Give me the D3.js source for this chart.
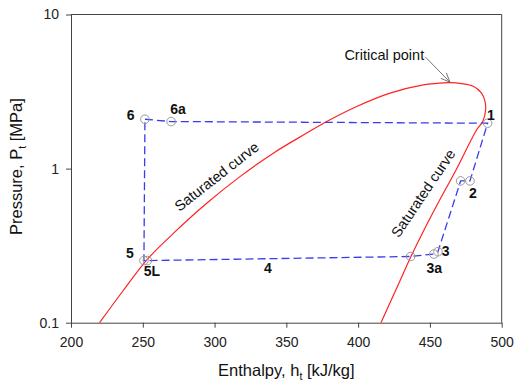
<!DOCTYPE html>
<html>
<head>
<meta charset="utf-8">
<script src="https://cdn.jsdelivr.net/npm/d3@7"></script>
<style>
  body { margin: 0; background: #fff; }
  svg { font-family: "Liberation Sans", Arial, sans-serif; }
  .axis path, .axis line { stroke: #444; }
  .axis text { font-size: 14px; fill: #222; }
</style>
</head>
<body>
<div id="chart"></div>
<script>
// Saturation dome (enthalpy kJ/kg, pressure MPa), liquid side -> critical point -> vapour side
const domeH = [219.9, 236, 252.7, 271.3, 294.5, 317.7, 340.9, 364.2, 378.1, 399, 422.2, 445.4, 457, 464, 472, 480.2, 485.8, 488.3, 488.8, 486.8, 482.5, 468.2, 455.6, 445.9, 436.8, 426.4, 415.9];
const domeP = [0.1, 0.16, 0.255, 0.38, 0.596, 0.887, 1.26, 1.70, 2.02, 2.53, 3.09, 3.49, 3.59, 3.61, 3.56, 3.42, 3.1, 2.75, 2.4, 2.02, 1.78, 0.98, 0.596, 0.40, 0.269, 0.164, 0.1];

// Cycle points in drawing order
const cycleNames = ["6", "6a", "1", "2", "2b", "3", "3a", "3s", "5L", "5", "6"];
const cycleH = [251.5, 269.7, 490.2, 477.9, 471.4, 455.6, 452.8, 436.6, 253.2, 250.8, 251.5];
const cycleP = [2.09, 2.02, 1.97, 0.832, 0.832, 0.289, 0.279, 0.269, 0.253, 0.253, 2.09];

// State labels (anchor positions in data units)
const labelText = ["6", "6a", "1", "2", "3", "3a", "4", "5", "5L"];
const labelH = [241.5, 274.5, 492.5, 480, 461, 453, 337.2, 241.1, 256.4];
const labelP = [2.17, 2.4, 2.2, 0.686, 0.288, 0.222, 0.222, 0.279, 0.212];

const xTicks = [200, 250, 300, 350, 400, 450, 500];
const yTicks = [0.1, 1, 10];

const W = 514, H = 383;
const margin = {top: 14.5, right: 12.3, bottom: 60.3, left: 71};
const width = W - margin.left - margin.right;
const height = H - margin.top - margin.bottom;

const svg = d3.select("#chart").append("svg")
  .attr("width", W)
  .attr("height", H);

const g = svg.append("g")
  .attr("transform", "translate(" + margin.left + "," + margin.top + ")");

const x = d3.scaleLinear().domain([200, 500]).range([0, width]);
const y = d3.scaleLog().domain([0.1, 10]).range([height, 0]);

// frame top and right
g.append("line").attr("x1", 0).attr("x2", width).attr("y1", 0).attr("y2", 0)
  .attr("stroke", "#444");
g.append("line").attr("x1", width).attr("x2", width).attr("y1", 0).attr("y2", height)
  .attr("stroke", "#444");

// axes
g.append("g")
  .attr("class", "axis")
  .attr("transform", "translate(0," + height + ")")
  .call(d3.axisBottom(x).tickValues(xTicks).tickSize(5).tickSizeOuter(0).tickPadding(9).tickFormat(d3.format("d")));

g.append("g")
  .attr("class", "axis")
  .call(d3.axisLeft(y).tickValues(yTicks).tickSize(5).tickSizeOuter(0).tickPadding(7).tickFormat(d => String(d)));

// saturation dome
const dome = domeH.map((h, i) => ({h: h, p: domeP[i]}));
const domeLine = d3.line()
  .x(d => x(d.h))
  .y(d => y(d.p))
  .curve(d3.curveCatmullRom.alpha(0.5));

g.append("path")
  .datum(dome)
  .attr("fill", "none")
  .attr("stroke", "#f22")
  .attr("stroke-width", 1.2)
  .attr("d", domeLine);

// cycle
const cycle = cycleH.map((h, i) => ({name: cycleNames[i], h: h, p: cycleP[i]}));
g.append("path")
  .datum(cycle)
  .attr("fill", "none")
  .attr("stroke", "#3a3af0")
  .attr("stroke-width", 1.3)
  .attr("stroke-dasharray", "8,4")
  .attr("d", d3.line().x(d => x(d.h)).y(d => y(d.p)));

g.selectAll(".pt")
  .data(cycle.slice(0, cycle.length - 1))
  .enter()
  .append("circle")
  .attr("class", "pt")
  .attr("cx", d => x(d.h))
  .attr("cy", d => y(d.p))
  .attr("r", 4.3)
  .attr("fill", "none")
  .attr("stroke", "#9a9a9a")
  .attr("stroke-width", 1);

// state labels
g.selectAll(".lbl")
  .data(labelText.map((t, i) => ({t: t, h: labelH[i], p: labelP[i]})))
  .enter()
  .append("text")
  .attr("class", "lbl")
  .attr("x", d => x(d.h))
  .attr("y", d => y(d.p))
  .attr("text-anchor", "middle")
  .attr("dominant-baseline", "middle")
  .attr("font-size", "14px")
  .attr("font-weight", "bold")
  .attr("fill", "#111")
  .text(d => d.t);

// saturated curve labels
g.append("text")
  .attr("transform", "translate(" + x(303.6) + "," + y(0.838) + ") rotate(-38)")
  .attr("text-anchor", "middle")
  .attr("font-size", "14.5px")
  .attr("fill", "#111")
  .text("Saturated curve");

g.append("text")
  .attr("transform", "translate(" + x(448.2) + "," + y(0.663) + ") rotate(-56)")
  .attr("text-anchor", "middle")
  .attr("font-size", "14.5px")
  .attr("fill", "#111")
  .text("Saturated curve");

// critical point annotation
const cpH = 464, cpP = 3.61;
const tx = x(446), ty = y(5.08);
g.append("text")
  .attr("x", tx)
  .attr("y", ty)
  .attr("text-anchor", "end")
  .attr("font-size", "14.5px")
  .attr("fill", "#111")
  .text("Critical point");

const ax0 = tx + 1, ay0 = ty - 3;
const ax1 = x(cpH), ay1 = y(cpP) - 0.5;
g.append("line")
  .attr("x1", ax0).attr("y1", ay0).attr("x2", ax1).attr("y2", ay1)
  .attr("stroke", "#666").attr("stroke-width", 0.9);
const ang = Math.atan2(ay1 - ay0, ax1 - ax0);
[0.4, -0.4].forEach(da => {
  g.append("line")
    .attr("x1", ax1).attr("y1", ay1)
    .attr("x2", ax1 - 10 * Math.cos(ang + da))
    .attr("y2", ay1 - 10 * Math.sin(ang + da))
    .attr("stroke", "#666").attr("stroke-width", 0.9);
});

// axis titles
const xt = svg.append("text")
  .attr("x", margin.left + width / 2)
  .attr("y", 376)
  .attr("text-anchor", "middle")
  .attr("font-size", "16.5px")
  .attr("fill", "#111");
xt.append("tspan").text("Enthalpy, h");
xt.append("tspan").attr("font-size", "10.5px").attr("dy", 4).text("t");
xt.append("tspan").attr("dy", -4).text(" [kJ/kg]");

const yt = svg.append("text")
  .attr("transform", "translate(22," + (margin.top + height / 2 - 2) + ") rotate(-90)")
  .attr("text-anchor", "middle")
  .attr("font-size", "16.5px")
  .attr("fill", "#111");
yt.append("tspan").text("Pressure, P");
yt.append("tspan").attr("font-size", "10.5px").attr("dy", 4).text("t");
yt.append("tspan").attr("dy", -4).text(" [MPa]");
</script>
</body>
</html>
